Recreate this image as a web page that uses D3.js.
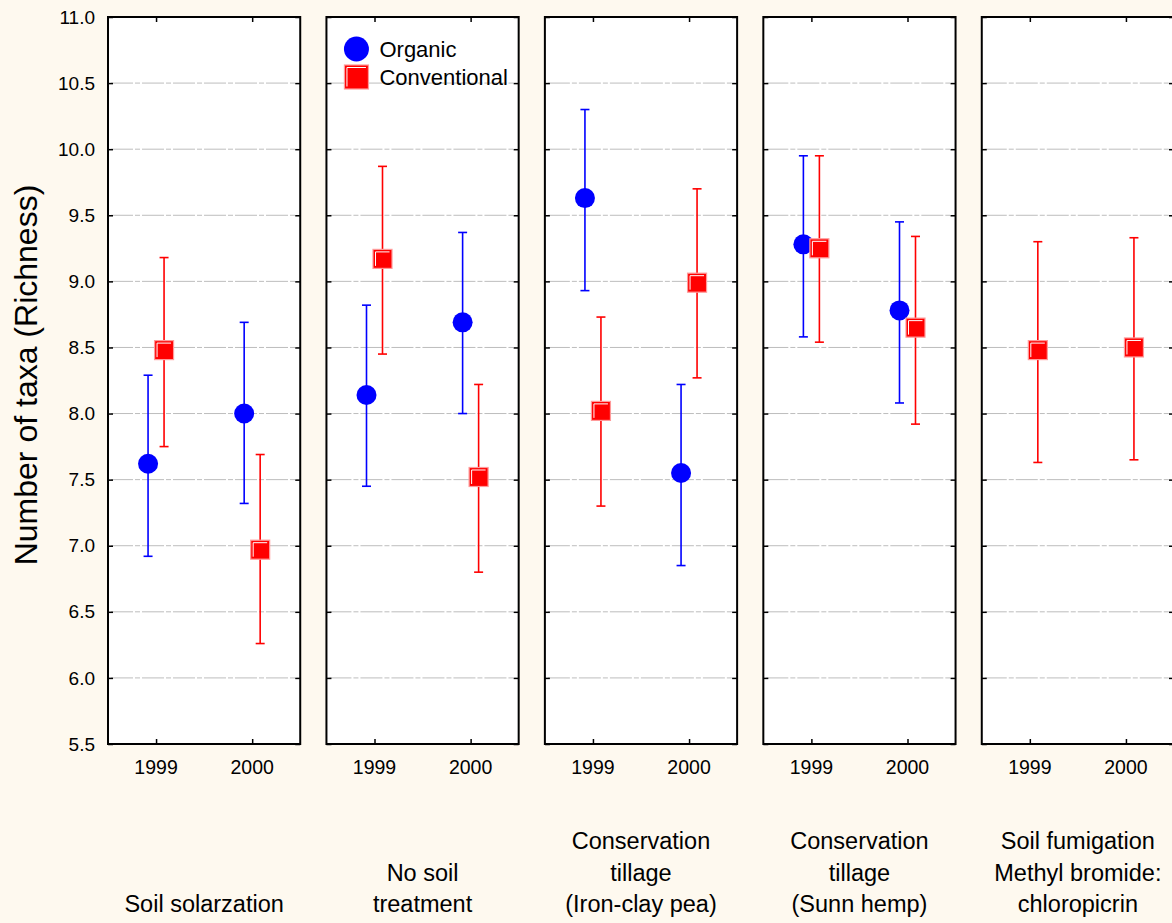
<!DOCTYPE html>
<html lang="en">
<head>
<meta charset="UTF-8">
<title>Richness</title>
<script src="https://d3js.org/d3.v7.min.js"></script>
<style>
  html, body { margin: 0; padding: 0; background: #fef9ef; }
  text { font-family: Arial, "Liberation Sans", sans-serif; fill: #000; }
</style>
</head>
<body>
<svg id="chart"></svg>
<script>
  const width = 1172, height = 923;

  // data
  const treatments = [
    ["Soil solarzation"],
    ["No soil", "treatment"],
    ["Conservation", "tillage", "(Iron-clay pea)"],
    ["Conservation", "tillage", "(Sunn hemp)"],
    ["Soil fumigation", "Methyl bromide:", "chloropicrin"]
  ];
  const years = ["1999", "2000"];
  const yTicks = [5.5, 6.0, 6.5, 7.0, 7.5, 8.0, 8.5, 9.0, 9.5, 10.0, 10.5, 11.0];

  const organicMean = [[7.62, 8.00], [8.14, 8.69], [9.63, 7.55], [9.28, 8.78], [null, null]];
  const organicHigh = [[8.29, 8.69], [8.82, 9.37], [10.30, 8.22], [9.95, 9.45], [null, null]];
  const organicLow  = [[6.92, 7.32], [7.45, 8.00], [8.93, 6.85], [8.58, 8.08], [null, null]];

  const convMean = [[8.48, 6.97], [9.17, 7.52], [8.02, 8.99], [9.25, 8.65], [8.48, 8.50]];
  const convHigh = [[9.18, 7.69], [9.87, 8.22], [8.73, 9.70], [9.95, 9.34], [9.30, 9.33]];
  const convLow  = [[7.75, 6.26], [8.45, 6.80], [7.30, 8.27], [8.54, 7.92], [7.63, 7.65]];

  const series = [
    {name: "Organic", color: "#0000ff", shape: "circle", offset: -8, mean: organicMean, hi: organicHigh, lo: organicLow},
    {name: "Conventional", color: "#ff0000", shape: "square", offset: 8, mean: convMean, hi: convHigh, lo: convLow}
  ];

  const svg = d3.select("#chart")
      .attr("width", width)
      .attr("height", height);

  svg.append("rect").attr("width", width).attr("height", height).attr("fill", "#fef9ef");

  const yTop = 17, yBottom = 744;
  const y = d3.scaleLinear().domain([5.5, 11]).range([yBottom, yTop]);

  const px = d3.scaleBand()
      .domain(d3.range(treatments.length))
      .range([108, 1174])
      .paddingInner(0.12)
      .paddingOuter(0);
  const bw = px.bandwidth();

  const xYear = d3.scalePoint().domain(years).range([0, bw]).padding(0.5);

  // y axis labels on the far left
  svg.append("g")
      .attr("transform", `translate(${px(0)},0)`)
      .call(d3.axisLeft(y).tickValues(yTicks).tickFormat(d3.format(".1f")).tickSize(0).tickPadding(13))
      .call(g => g.select(".domain").remove())
      .selectAll("text").attr("font-size", 19);

  svg.append("text")
      .attr("transform", `translate(37,375) rotate(-90)`)
      .attr("text-anchor", "middle")
      .attr("font-size", 32)
      .text("Number of taxa (Richness)");

  const symbolSize = 19;

  function drawSquare(g, x, yy, size, color) {
    const h = size / 2;
    g.append("rect")
        .attr("x", x - h).attr("y", yy - h)
        .attr("width", size).attr("height", size)
        .attr("fill", color)
        .attr("stroke", "#ff9a9a").attr("stroke-width", 1.2);
    g.append("path")
        .attr("d", `M${x - h + 2.5},${yy + h - 2.5} V${yy - h + 2.5} H${x + h - 2.5}`)
        .attr("fill", "none").attr("stroke", "#fff").attr("stroke-width", 1);
  }

  treatments.forEach((lines, p) => {
    const g = svg.append("g").attr("transform", `translate(${px(p)},0)`);

    g.append("rect")
        .attr("x", 0).attr("y", yTop)
        .attr("width", bw).attr("height", yBottom - yTop)
        .attr("fill", "#fff");

    // dashed gridlines
    g.append("g")
        .selectAll("line")
        .data(yTicks.filter(v => v > 5.5 && v < 11))
        .join("line")
        .attr("x1", 3).attr("x2", bw - 3)
        .attr("y1", d => y(d)).attr("y2", d => y(d))
        .attr("stroke", "#bdbdbd")
        .attr("stroke-width", 1)
        .attr("stroke-dasharray", "22,2,5,2");

    // inner ticks on both sides
    g.append("g")
        .call(d3.axisRight(y).tickValues(yTicks).tickSize(5).tickFormat(""))
        .call(a => a.select(".domain").remove())
        .selectAll("line").attr("stroke", "#000").attr("stroke-width", 1.5);
    g.append("g")
        .attr("transform", `translate(${bw},0)`)
        .call(d3.axisLeft(y).tickValues(yTicks).tickSize(5).tickFormat(""))
        .call(a => a.select(".domain").remove())
        .selectAll("line").attr("stroke", "#000").attr("stroke-width", 1.5);

    // x ticks top and bottom, labels below
    g.append("g")
        .attr("transform", `translate(0,${yBottom})`)
        .call(d3.axisTop(xYear).tickSize(5).tickFormat(""))
        .call(a => a.select(".domain").remove())
        .selectAll("line").attr("stroke", "#000").attr("stroke-width", 1.5);
    g.append("g")
        .attr("transform", `translate(0,${yTop})`)
        .call(d3.axisBottom(xYear).tickSize(5).tickFormat(""))
        .call(a => a.select(".domain").remove())
        .selectAll("line").attr("stroke", "#000").attr("stroke-width", 1.5);

    g.append("g")
        .selectAll("text")
        .data(years)
        .join("text")
        .attr("x", d => xYear(d))
        .attr("y", 774)
        .attr("text-anchor", "middle")
        .attr("font-size", 19.5)
        .text(d => d);

    // treatment label, bottom aligned
    g.append("g")
        .selectAll("text")
        .data(lines)
        .join("text")
        .attr("x", bw / 2)
        .attr("y", (d, i) => 912 - (lines.length - 1 - i) * 31.5)
        .attr("text-anchor", "middle")
        .attr("font-size", 23.5)
        .text(d => d);

    // error bars and markers
    series.forEach(s => {
      years.forEach((yr, j) => {
        const m = s.mean[p][j];
        if (m == null) return;
        const cx = xYear(yr) + s.offset;
        const hi = y(s.hi[p][j]), lo = y(s.lo[p][j]);
        g.append("line").attr("x1", cx).attr("x2", cx).attr("y1", hi).attr("y2", lo)
            .attr("stroke", s.color).attr("stroke-width", 1.6);
        [hi, lo].forEach(cy => {
          g.append("line").attr("x1", cx - 4.5).attr("x2", cx + 4.5).attr("y1", cy).attr("y2", cy)
              .attr("stroke", s.color).attr("stroke-width", 1.6);
        });
        if (s.shape === "circle") {
          g.append("circle").attr("cx", cx).attr("cy", y(m)).attr("r", 10).attr("fill", s.color);
        } else {
          drawSquare(g, cx, y(m), symbolSize, s.color);
        }
      });
    });

    g.append("rect")
        .attr("x", 0).attr("y", yTop)
        .attr("width", bw).attr("height", yBottom - yTop)
        .attr("fill", "none")
        .attr("stroke", "#000").attr("stroke-width", 2);
  });

  // legend in the second panel
  const lg = svg.append("g").attr("transform", `translate(${px(1)},0)`);
  series.forEach((s, i) => {
    const ly = 49 + i * 28;
    if (s.shape === "circle") {
      lg.append("circle").attr("cx", 30).attr("cy", ly).attr("r", 12.5).attr("fill", s.color);
    } else {
      drawSquare(lg, 30, ly, 24, s.color);
    }
    lg.append("text")
        .attr("x", 53).attr("y", ly + 8)
        .attr("font-size", 22)
        .text(s.name);
  });
</script>
</body>
</html>
